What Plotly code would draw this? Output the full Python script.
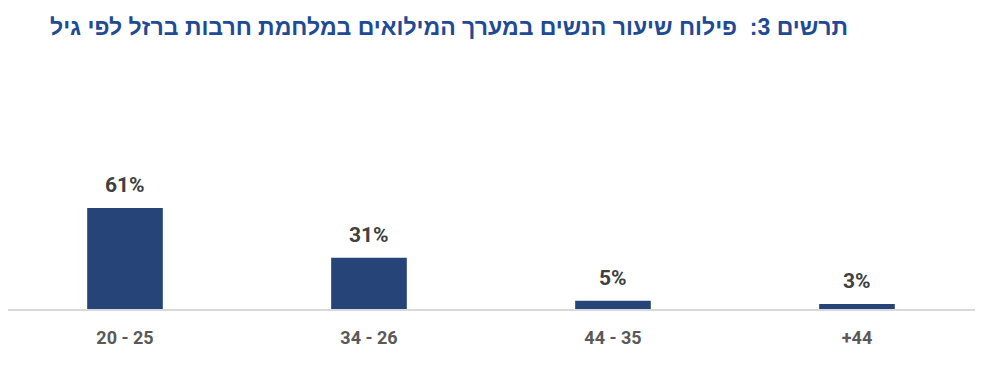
import plotly.graph_objects as go

categories = ["20 - 25", "34 - 26", "44 - 35", "+44"]
values = [61, 31, 5, 3]
labels = [f"{v}%" for v in values]
title_text = "תרשים 3:  פילוח שיעור הנשים במערך המילואים במלחמת חרבות ברזל לפי גיל"

idx = list(range(len(categories)))

fig = go.Figure()
fig.add_trace(go.Bar(
    x=idx, y=values, width=0.31,
    marker=dict(color="#264478", line=dict(width=0)),
    hoverinfo="skip",
))
for i, v, t in zip(idx, values, labels):
    fig.add_annotation(x=i, y=v, text=t, showarrow=False, yanchor="bottom", yshift=9,
                       font=dict(family="Roboto", size=21, color="#404040", weight="bold"))

fig.add_annotation(xref="paper", yref="paper", x=842 / 970, y=1, yshift=41,
                   xanchor="right", yanchor="middle", text=title_text, showarrow=False,
                   font=dict(family="Liberation Sans", size=23, color="#1F4A94", weight="bold"))

fig.update_layout(
    width=983, height=371,
    margin=dict(l=0, r=13, t=60, b=70, pad=0, autoexpand=False),
    paper_bgcolor="white", plot_bgcolor="white",
    showlegend=False,
    xaxis=dict(range=[-0.4795, 3.496], tickvals=idx, ticktext=categories,
               showline=True, linecolor="#D9D9D9", linewidth=1.5, showgrid=False, zeroline=False,
               ticks="", ticklabelstandoff=12, tickangle=0, automargin=False,
               tickfont=dict(family="Roboto", size=18, color="#595959", weight="bold")),
    yaxis=dict(range=[0, 145.5], visible=False, showgrid=False, zeroline=False),
)
fig.write_html("out.html")
